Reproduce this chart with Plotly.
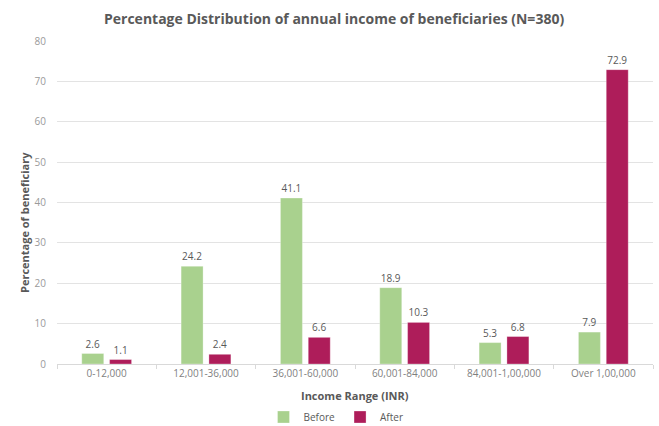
import plotly.graph_objects as go

categories = ["0-12,000", "12,001-36,000", "36,001-60,000", "60,001-84,000",
              "84,001-1,00,000", "Over 1,00,000"]
before = [2.6, 24.2, 41.1, 18.9, 5.3, 7.9]
after = [1.1, 2.4, 6.6, 10.3, 6.8, 72.9]
y_ticks = [0, 10, 20, 30, 40, 50, 60, 70, 80]

GREEN = "#A9D18E"
MAROON = "#AE1D5A"
FONT = "Open Sans"

fig = go.Figure()
fig.add_trace(go.Bar(
    name="Before", x=categories, y=before, marker_color=GREEN,
    marker_line=dict(color="rgba(255,255,255,0.6)", width=0.5),
    text=[f"{v:.1f}" for v in before], textposition="outside",
    textfont=dict(family=FONT, size=10, color="#595959"), cliponaxis=False,
))
fig.add_trace(go.Bar(
    name="After", x=categories, y=after, marker_color=MAROON,
    marker_line=dict(color="rgba(255,255,255,0.6)", width=0.5),
    text=[f"{v:.1f}" for v in after], textposition="outside",
    textfont=dict(family=FONT, size=10, color="#595959"), cliponaxis=False,
))

fig.update_layout(
    width=659, height=426,
    margin=dict(l=57, r=6, t=41, b=62, autoexpand=False),
    paper_bgcolor="white", plot_bgcolor="white",
    barmode="group", bargap=0.44, bargroupgap=0.21,
    showlegend=True,
    legend=dict(orientation="h", x=(336 - 57) / 596, xanchor="center",
                y=-(417 - 364) / 323, yanchor="middle",
                font=dict(family=FONT, size=10, color="#595959"),
                itemwidth=30, traceorder="normal"),
    font=dict(family=FONT, color="#595959"),
)

fig.update_xaxes(
    type="category", showgrid=False, showline=True, linecolor="#D9D9D9", linewidth=1,
    ticks="outside", tickson="boundaries", ticklen=4, tickcolor="#D9D9D9",
    tickfont=dict(family=FONT, size=10, color="#7F7F7F"),
)
fig.update_yaxes(
    range=[0, 80], tickvals=y_ticks, showgrid=True, gridcolor="#E3E3E3", gridwidth=1,
    zeroline=False, showline=False, ticks="",
    tickfont=dict(family=FONT, size=10, color="#9A9A9A"), ticklabelstandoff=10,
)

# Chart title and axis titles
fig.add_annotation(
    text="<b>Percentage Distribution of annual income of beneficiaries (N=380)</b>",
    xref="paper", yref="paper", x=(334 - 57) / 596, y=1 + (41 - 18) / 323,
    xanchor="center", yanchor="middle", showarrow=False,
    font=dict(family=FONT, size=14, color="#595959"),
)
fig.add_annotation(
    text="<b>Income Range (INR)</b>", xref="paper", yref="paper",
    x=0.5, y=-(395 - 364) / 323, xanchor="center", yanchor="middle",
    showarrow=False, font=dict(family=FONT, size=11, color="#595959"),
)
fig.add_annotation(
    text="<b>Percentage of beneficiary</b>", xref="paper", yref="paper",
    x=-(57 - 24) / 596, y=(364 - 223) / 323, xanchor="center", yanchor="middle",
    textangle=-90, showarrow=False, font=dict(family=FONT, size=11, color="#595959"),
)

fig.write_html("out.html")
